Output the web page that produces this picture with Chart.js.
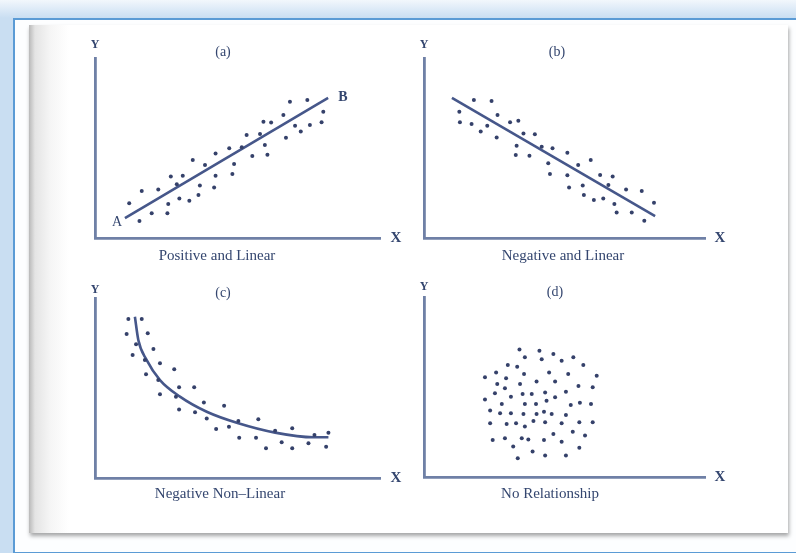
<!DOCTYPE html>
<html>
<head>
<meta charset="utf-8">
<script src="https://cdn.jsdelivr.net/npm/chart.js@4/dist/chart.umd.min.js"></script>
<style>
  html, body { margin: 0; padding: 0; }
  body {
    width: 796px; height: 553px; overflow: hidden; position: relative;
    background: linear-gradient(to bottom, #f2f7fc 0px, #c9def2 18px, #c9def2 100%);
  }
  #frame {
    position: absolute; left: 13px; top: 18px; width: 800px; height: 532px;
    border: 2px solid #5b9bd5; background: #fdfeff;
  }
  #sheet {
    position: absolute; left: 29px; top: 25px; width: 759px; height: 508px;
    background: linear-gradient(to right, #b9b9b9 0px, #e4e4e4 6px, #f6f6f6 22px, #ffffff 40px);
    box-shadow: 1px 3px 4px rgba(0,0,0,0.35);
  }
  canvas { position: absolute; }
</style>
</head>
<body>
<div id="frame"></div>
<div id="sheet"></div>
<canvas id="pa" style="left:60px;top:30px" width="350" height="240"></canvas>
<canvas id="pb" style="left:390px;top:30px" width="350" height="240"></canvas>
<canvas id="pc" style="left:60px;top:270px" width="350" height="240"></canvas>
<canvas id="pd" style="left:390px;top:269px" width="350" height="240"></canvas>
<script>
// (a) Positive and Linear
var posX = [1.2,1.56,1.64,1.99,2.22,2.54,2.57,2.66,2.87,2.96,3.08,3.31,3.43,3.63,3.68,3.86,4.18,4.23,4.23,4.71,4.82,4.88,5.15,5.32,5.52,5.79,5.91,5.96,6.05,6.18,6.61,6.7,6.84,7.02,7.22,7.45,7.54,7.95,8.01];
var posY = [1.93,0.94,2.61,1.37,2.7,1.37,1.89,3.41,2.98,2.2,3.46,2.07,4.33,2.39,2.91,4.06,2.81,4.7,3.46,4.98,3.56,4.11,5.04,5.72,4.56,5.78,6.46,5.17,4.63,6.41,6.83,5.57,7.57,6.24,5.91,7.67,6.28,6.43,7.02];
var posLineX = [1.05, 8.18];
var posLineY = [1.11, 7.78];

// (b) Negative and Linear
var negX = [1.24,1.26,1.67,1.75,1.99,2.22,2.37,2.55,2.58,3.02,3.31,3.25,3.22,3.49,3.7,3.89,4.13,4.36,4.42,4.51,5.03,5.03,5.09,5.41,5.57,5.61,5.85,5.96,6.18,6.29,6.47,6.62,6.68,6.76,7.09,7.29,7.64,7.73,8.07];
var negY = [7.02,6.43,6.33,7.67,5.91,6.24,7.61,5.59,6.83,6.43,6.52,5.13,4.61,5.81,4.57,5.76,5.07,4.15,3.56,4.98,4.74,3.48,2.81,4.06,2.91,2.39,4.33,2.11,3.5,2.2,2.94,3.41,1.89,1.41,2.7,1.41,2.61,0.96,1.96];
var negLineX = [0.98, 8.11];
var negLineY = [7.78, 1.22];

// (c) Negative Non-Linear
var curvX = [1.17,1.64,1.11,1.85,1.44,2.05,1.32,1.75,2.28,2.78,1.79,2.22,2.95,3.48,2.28,2.84,3.82,4.53,2.95,3.51,3.92,5.03,5.73,4.25,4.7,5.06,5.65,6.32,6.92,6.0,6.55,6.92,7.49,7.7,8.11,8.19];
var curvY = [8.83,8.83,8.0,8.04,7.43,7.17,6.83,6.56,6.37,6.04,5.76,5.44,5.04,5.04,4.65,4.52,4.19,4.02,3.81,3.65,3.31,3.17,3.26,2.72,2.85,2.24,2.24,2.63,2.76,1.65,1.98,1.65,1.93,2.39,1.74,2.52];
var curvLineX = [1.4,1.52,1.81,2.28,2.98,3.92,5.03,6.32,7.66,8.19];
var curvLineY = [8.96,7.67,6.56,5.44,4.52,3.68,3.04,2.52,2.26,2.26];

// (d) No Relationship
var noneX = [3.35,4.05,4.54,3.54,4.13,4.83,5.24,5.59,2.94,3.27,2.14,2.53,2.88,3.51,4.39,5.06,6.06,2.57,2.84,3.37,3.95,4.6,5.42,5.92,2.14,2.49,3.05,3.46,3.78,4.25,4.6,4.98,2.73,3.54,3.93,4.3,5.15,5.47,5.86,2.32,2.67,3.05,3.49,3.95,4.21,4.48,4.98,2.32,2.9,3.23,3.54,3.84,4.25,4.83,5.45,5.92,5.22,2.41,2.84,3.43,3.66,4.21,4.54,4.83,5.65,3.13,5.45,3.81,4.25,4.98,3.29];
var noneY = [7.09,7.02,6.83,6.65,6.54,6.46,6.65,6.22,6.22,6.13,5.54,5.81,5.48,5.72,5.8,5.72,5.63,5.17,4.93,5.17,5.3,5.3,5.06,4.98,4.31,4.65,4.46,4.61,4.61,4.69,4.43,4.74,4.06,4.06,4.06,4.24,4.0,4.13,4.06,3.69,3.54,3.54,3.5,3.5,3.63,3.5,3.44,2.98,2.94,2.98,2.8,3.11,3.04,2.98,3.04,3.04,2.52,2.06,2.15,2.15,2.09,2.06,2.39,1.96,2.3,1.69,1.63,1.41,1.19,1.19,1.04];

var axisColor = '#6f80a6';
var dotColor = '#35416a';
var lineColor = '#46578a';
var textColor = '#34466f';
var serif = '"Liberation Serif", "DejaVu Serif", serif';

function pairs(xs, ys) {
  return xs.map(function(x, i) { return { x: x, y: ys[i] }; });
}

// draws the Y / X axis letters, panel letter, caption and point labels
var textPlugin = {
  id: 'panelText',
  afterDraw: function(chart) {
    var t = chart.options.plugins.panelText;
    var ctx = chart.ctx;
    var ox = t.left, oy = t.top;
    ctx.save();
    ctx.fillStyle = textColor;
    ctx.textAlign = 'center';
    ctx.textBaseline = 'middle';
    ctx.font = 'bold 12px ' + serif;
    ctx.fillText('Y', t.yLab[0] - ox, t.yLab[1] - oy);
    ctx.font = 'bold 15px ' + serif;
    ctx.fillText('X', t.xLab[0] - ox, t.xLab[1] - oy);
    ctx.font = '14px ' + serif;
    ctx.fillText(t.title, t.titlePos[0] - ox, t.titlePos[1] - oy);
    ctx.font = '15px ' + serif;
    ctx.fillText(t.caption, t.capPos[0] - ox, t.capPos[1] - oy);
    (t.marks || []).forEach(function(m) {
      ctx.font = m.bold ? 'bold 14px ' + serif : '14px ' + serif;
      ctx.fillText(m.text, chart.scales.x.getPixelForValue(m.x), chart.scales.y.getPixelForValue(m.y));
    });
    ctx.restore();
  }
};

function makePanel(id, dots, line, curved, xMax, pad, text) {
  var axis = function(max) {
    return {
      type: 'linear', min: 0, max: max,
      grid: { display: false, drawTicks: false },
      ticks: { display: false },
      border: { display: true, color: axisColor, width: 2.8 }
    };
  };
  var datasets = [{
    data: dots,
    showLine: false,
    pointRadius: 2,
    pointBackgroundColor: dotColor,
    pointBorderWidth: 0
  }];
  if (line) {
    datasets.push({
      data: line,
      showLine: true,
      borderColor: lineColor,
      borderWidth: 2.6,
      pointRadius: 0,
      cubicInterpolationMode: curved ? 'monotone' : 'default',
      tension: curved ? 0.4 : 0
    });
  }
  return new Chart(document.getElementById(id), {
    type: 'scatter',
    data: { datasets: datasets },
    options: {
      responsive: false,
      animation: false,
      events: [],
      clip: false,
      layout: { padding: pad },
      scales: { x: axis(xMax), y: axis(10) },
      plugins: {
        legend: { display: false },
        tooltip: { enabled: false },
        panelText: text
      }
    },
    plugins: [textPlugin]
  });
}

makePanel('pa', pairs(posX, posY), pairs(posLineX, posLineY), false, 10,
  { left: 35, top: 28, right: 30, bottom: 32 },
  { left: 60, top: 30, yLab: [95, 45], xLab: [396, 238], title: '(a)', titlePos: [223, 52],
    caption: 'Positive and Linear', capPos: [217, 256],
    marks: [{ text: 'A', x: 0.77, y: 0.89 }, { text: 'B', x: 8.7, y: 7.83, bold: true }] });

makePanel('pb', pairs(negX, negY), pairs(negLineX, negLineY), false, 9.86,
  { left: 34, top: 28, right: 35, bottom: 32 },
  { left: 390, top: 30, yLab: [424, 45], xLab: [720, 238], title: '(b)', titlePos: [557, 52],
    caption: 'Negative and Linear', capPos: [563, 256] });

makePanel('pc', pairs(curvX, curvY), pairs(curvLineX, curvLineY), true, 10,
  { left: 35, top: 28, right: 30, bottom: 32 },
  { left: 60, top: 270, yLab: [95, 290], xLab: [396, 478], title: '(c)', titlePos: [223, 293],
    caption: 'Negative Non\u2013Linear', capPos: [220, 494] });

makePanel('pd', pairs(noneX, noneY), null, false, 9.86,
  { left: 34, top: 28, right: 35, bottom: 32 },
  { left: 390, top: 269, yLab: [424, 287], xLab: [720, 477], title: '(d)', titlePos: [555, 292],
    caption: 'No Relationship', capPos: [550, 494] });
</script>
</body>
</html>
